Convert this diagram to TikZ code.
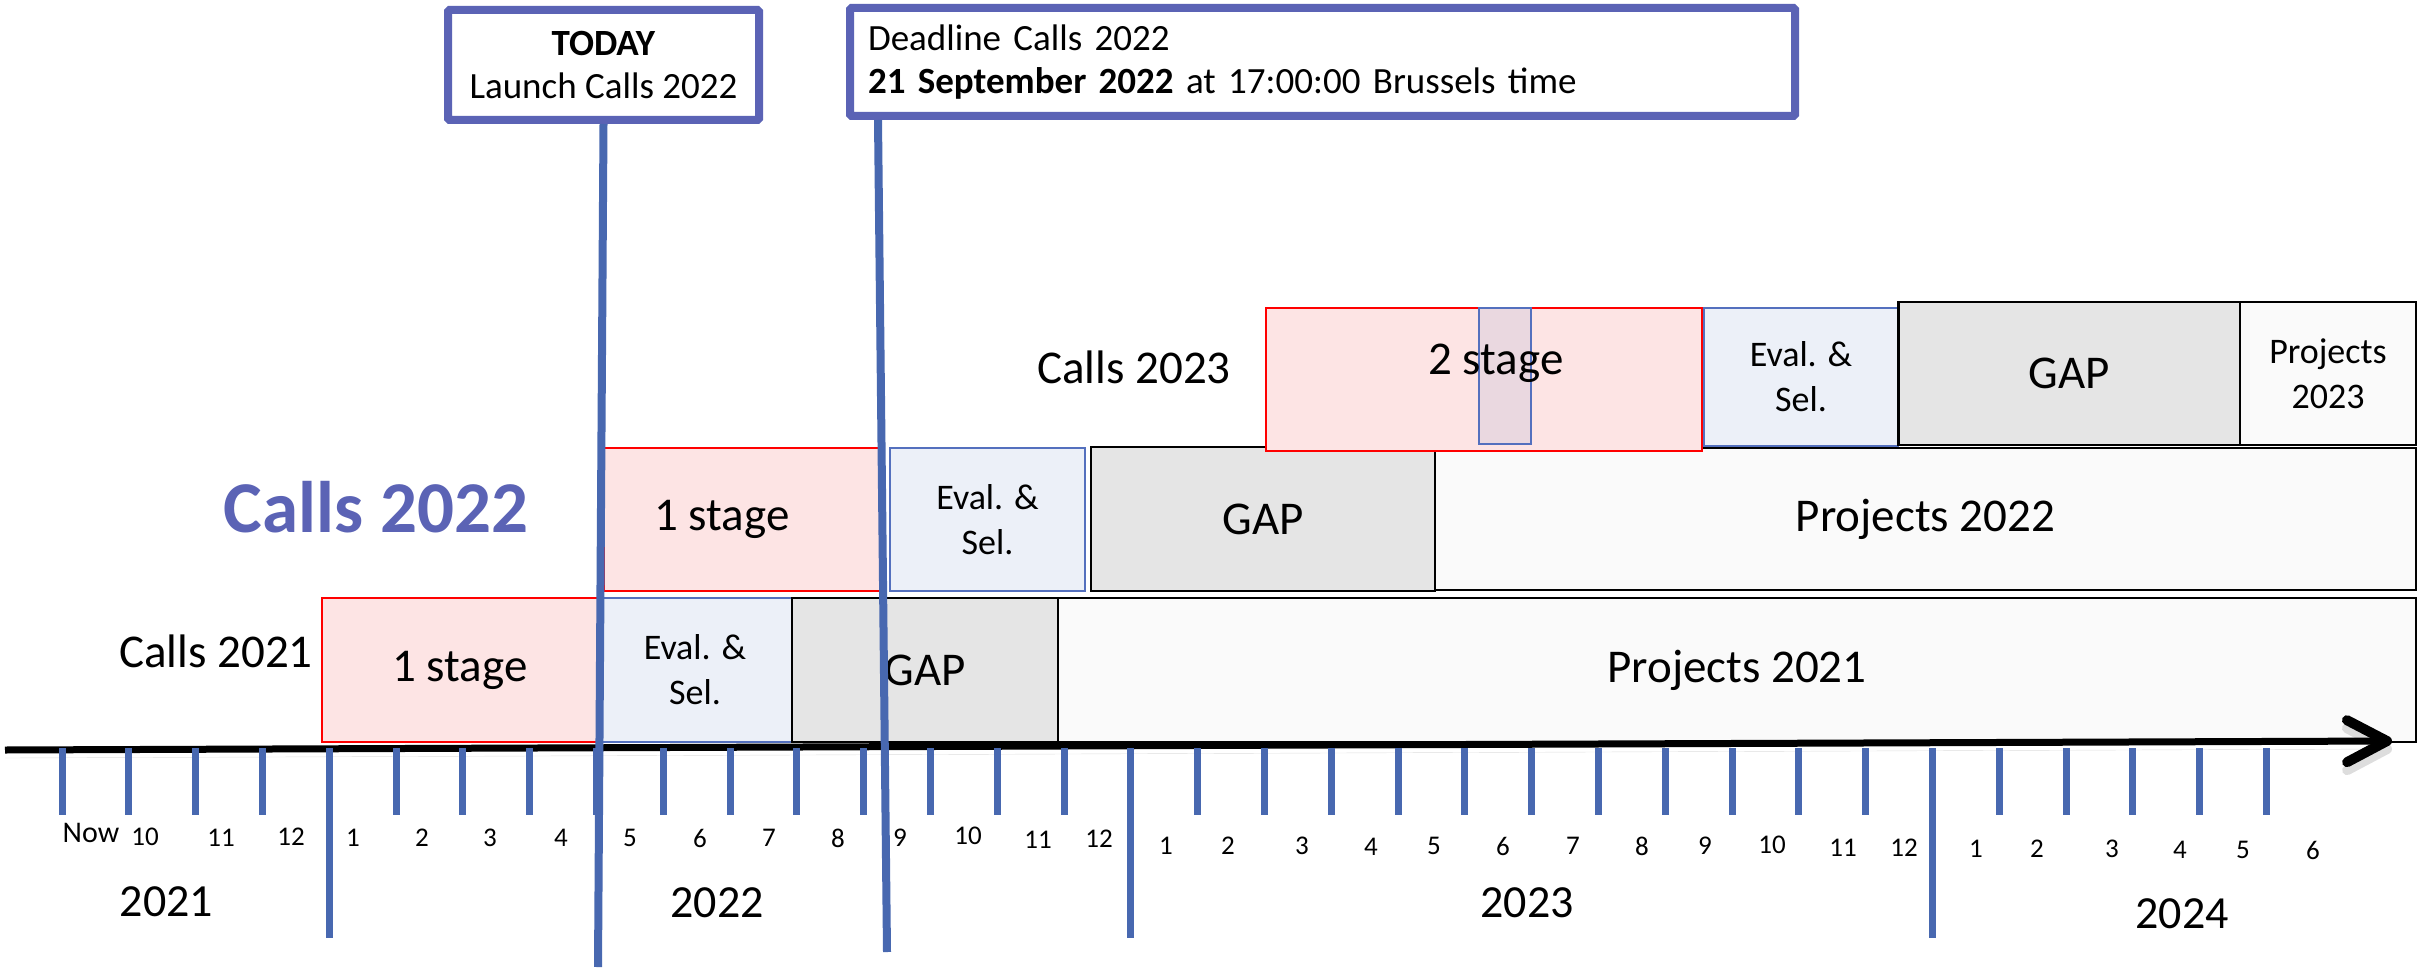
\documentclass[tikz,border=0pt]{standalone}
\usepackage{fontspec}
\setmainfont{Carlito}
\usepackage{tikz}
\usetikzlibrary{
  arrows.meta,
  calc,
  positioning,
}
\definecolor{stagered}{RGB}{255, 0, 0}
\definecolor{stagefill}{RGB}{253, 228, 228}
\definecolor{evalblue}{RGB}{84, 112, 190}
\definecolor{evalfill}{RGB}{236, 240, 248}
\definecolor{gapfill}{RGB}{229, 229, 229}
\definecolor{projfill}{RGB}{250, 250, 250}
\definecolor{markfill}{RGB}{234, 216, 224}
\definecolor{callblue}{RGB}{91, 99, 181}
\definecolor{lineblue}{RGB}{72, 104, 176}
\newcommand{\barfont}{\fontsize{47}{56}\selectfont}
\newcommand{\evalfont}{\fontsize{36}{45}\selectfont}
\newcommand{\notefont}{\fontsize{37}{43}\selectfont}
\newcommand{\monthfont}{\fontsize{27}{32}\selectfont}
\newcommand{\yearfont}{\fontsize{46}{54}\selectfont}
\tikzset{
  stagebox/.style={draw=stagered, fill=stagefill, line width=2pt, inner sep=0pt},
  evalbox/.style={draw=evalblue, fill=evalfill, line width=2pt, inner sep=0pt,
    align=center, font=\evalfont},
  gapbox/.style={draw=black, fill=gapfill, line width=2.5pt, inner sep=0pt, font=\barfont},
  projbox/.style={draw=black, fill=projfill, line width=2.5pt, inner sep=0pt, font=\barfont},
  notebox/.style={draw=callblue, fill=white, line width=8pt, rounded corners=1.5pt,
    inner sep=0pt, font=\notefont},
  cue/.style={lineblue, line width=8pt},
  monthtick/.style={lineblue, line width=7pt},
  timeaxis/.style={
    line width=7pt,
    -{Straight Barb[length=40pt, width=42pt, line width=10pt, round]},
    preaction={draw=black!22, opacity=0.6, transform canvas={yshift=-8pt}},
  },
}

\begin{document}
\begin{tikzpicture}[x=1pt, y=-1pt]
  \useasboundingbox (0,0) rectangle (2430,971);

  % milestone boxes
  \node [notebox, align=center, minimum width=311pt, minimum height=110pt] (today)
    at (603.5, 65) {\textbf{TODAY}\\Launch Calls 2022};
  \node [notebox, align=left, text width=909pt, inner xsep=18pt, minimum height=108pt] (deadline)
    at (1322.5, 62) {Deadline Calls 2022\\\textbf{21 September 2022} at 17:00:00 Brussels time};

  % calls 2021
  \node [font=\barfont] (calls21) at (216, 651) {Calls 2021};
  \node [stagebox, font=\barfont, minimum width=276pt, minimum height=144pt] (stage21)
    at (460, 670) {1 stage};
  \node [evalbox, minimum width=194pt, minimum height=144pt] (eval21)
    at (695, 670) {Eval. \&\\Sel.};
  \node [gapbox, minimum width=266pt, minimum height=144pt] (gap21)
    at (925, 670) {GAP};
  \node [projbox, minimum width=1358pt, minimum height=144pt] (proj21)
    at (1737, 670) {Projects 2021};

  % calls 2022
  \node [font=\barfont\bfseries\fontsize{73}{80}\selectfont, text=callblue] (calls22)
    at (376, 507) {Calls 2022};
  \node [stagebox, minimum width=278pt, minimum height=143pt] (stage22)
    at (743, 519.5) {};
  \node [font=\barfont] (stage22txt) at (722, 519) {1 stage};
  \node [evalbox, minimum width=195pt, minimum height=143pt] (eval22)
    at (987.5, 519.5) {Eval. \&\\Sel.};
  \node [gapbox, minimum width=344pt, minimum height=144pt] (gap22)
    at (1263, 519) {GAP};
  \node [projbox, minimum width=981pt, minimum height=142pt] (proj22)
    at (1925.5, 519) {Projects 2022};

  % calls 2023
  \node [font=\barfont] (calls23) at (1134, 367) {Calls 2023};
  \node [stagebox, minimum width=436pt, minimum height=143pt] (stage23)
    at (1483.5, 379.5) {};
  \node [draw=evalblue, fill=markfill, line width=2pt, minimum width=52.5pt,
    minimum height=136pt, inner sep=0pt] (mark23) at (1505, 376) {};
  \node [font=\barfont] (stage23txt) at (1496, 363) {2 stage};
  \node [evalbox, minimum width=194.5pt, minimum height=138pt] (eval23)
    at (1801, 377) {Eval. \&\\Sel.};
  \node [gapbox, minimum width=341.5pt, minimum height=143pt] (gap23)
    at (2069, 373.5) {GAP};
  \node [projbox, font=\evalfont, align=center, minimum width=176pt, minimum height=143pt] (proj23)
    at (2328, 373.5) {Projects\\2023};

  % time axis
  \coordinate (axisstart) at (5, 750);
  \coordinate (axisend) at (2392, 741);
  \draw [timeaxis] (axisstart) -- (axisend);

  \foreach \i in {0,...,33} {
    \draw [monthtick] ({62+66.8*\i}, 748) -- ({62+66.8*\i}, 815);
  }
  \foreach \i in {4,16,28} {
    \draw [monthtick] ({62+66.8*\i}, 748) -- ({62+66.8*\i}, 938);
  }

  \node [font=\fontsize{30}{36}\selectfont] (now) at (91, 833) {Now};
  \foreach \x/\y/\m [count=\k] in {
      145/837/10, 221/838/11, 291/837/12, 353/838/1, 422/838/2, 490/838/3,
      561/838/4, 630/838/5, 700/838/6, 769/838/7, 838/838/8, 900/838/9,
      968/836/10, 1038/840/11, 1099/839/12, 1166/846/1, 1228/846/2, 1302/846/3,
      1371/847/4, 1434/846/5, 1503/846/6, 1573/846/7, 1642/846/8, 1705/846/9,
      1772/845/10, 1843/848/11, 1904/848/12, 1976/849/1, 2037/849/2, 2112/849/3,
      2180/850/4, 2243/850/5, 2313/850/6} {
    \node [font=\monthfont] (month\k) at (\x, \y) {\m};
  }

  \node [font=\yearfont] (year21) at (166.5, 902) {2021};
  \node [font=\yearfont] (year22) at (717, 903) {2022};
  \node [font=\yearfont] (year23) at (1527, 903) {2023};
  \node [font=\yearfont] (year24) at (2182, 914) {2024};

  % milestone lines
  \coordinate (todayend) at (598, 967);
  \coordinate (deadlineend) at (887, 952);
  \draw [cue] (today.south) -- (todayend);
  \draw [cue] ($(deadline.south west)+(32,0)$) -- (deadlineend);
\end{tikzpicture}
\end{document}
